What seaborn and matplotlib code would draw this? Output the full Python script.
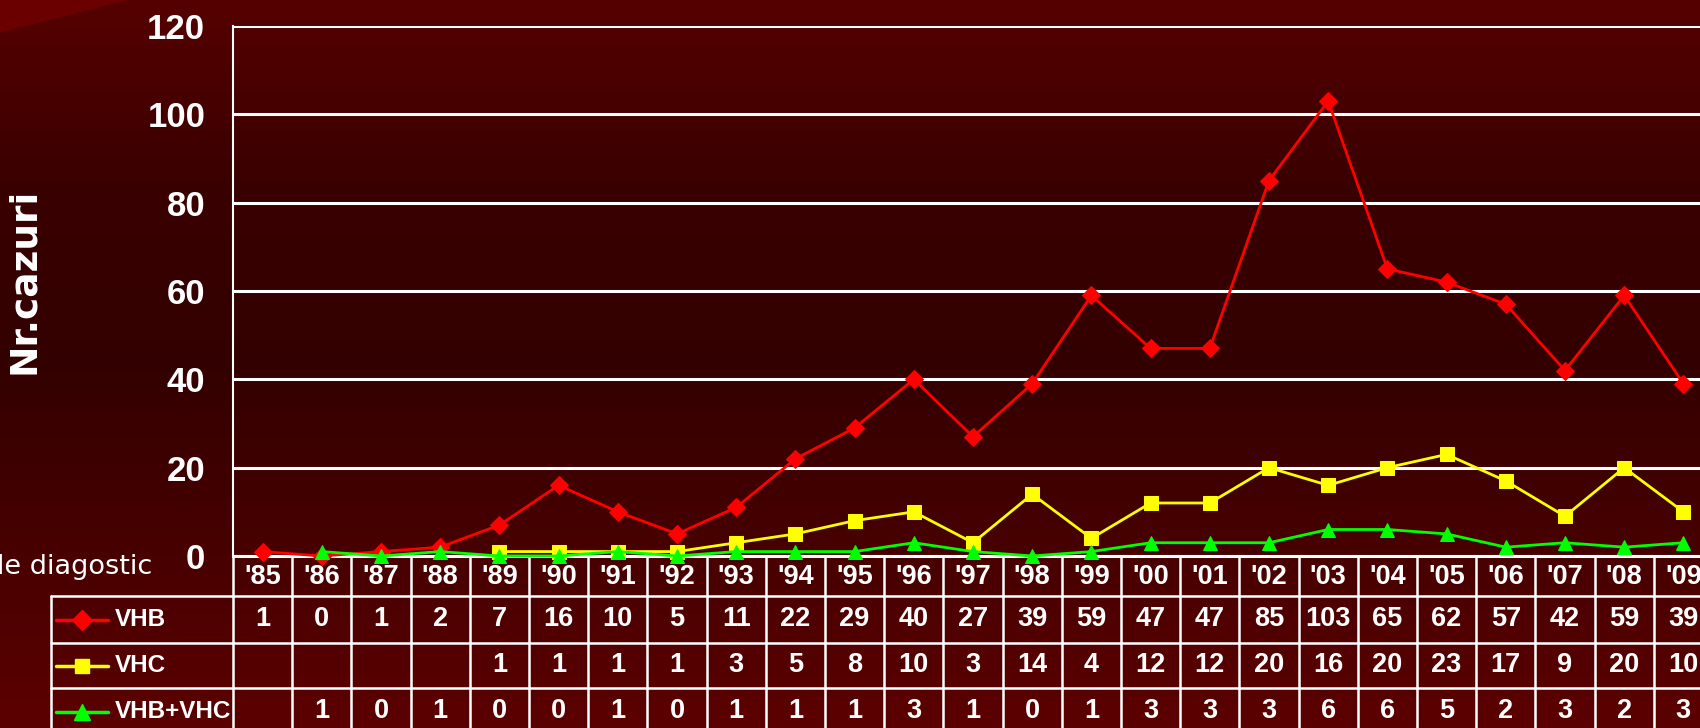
import numpy as np
import pandas as pd
import seaborn as sns
import matplotlib.pyplot as plt
from matplotlib.transforms import blended_transform_factory
from matplotlib.lines import Line2D
from matplotlib.colors import LinearSegmentedColormap

years = ["'85", "'86", "'87", "'88", "'89", "'90", "'91", "'92", "'93", "'94", "'95", "'96",
         "'97", "'98", "'99", "'00", "'01", "'02", "'03", "'04", "'05", "'06", "'07", "'08", "'09"]
vhb = [1, 0, 1, 2, 7, 16, 10, 5, 11, 22, 29, 40, 27, 39, 59, 47, 47, 85, 103, 65, 62, 57, 42, 59, 39]
vhc = [None, None, None, None, 1, 1, 1, 1, 3, 5, 8, 10, 3, 14, 4, 12, 12, 20, 16, 20, 23, 17, 9, 20, 10]
vhb_vhc = [None, 1, 0, 1, 0, 0, 1, 0, 1, 1, 1, 3, 1, 0, 1, 3, 3, 3, 6, 6, 5, 2, 3, 2, 3]

series = [("VHB", vhb, "#ff0000", "D", 9.5),
          ("VHC", vhc, "#ffff00", "s", 9.5),
          ("VHB+VHC", vhb_vhc, "#00ff00", "^", 10.5)]

sns.set_style("white")
plt.rcParams['font.family'] = ['DejaVu Sans']
narrow = ['Liberation Sans', 'DejaVu Sans']

W, H = 1700, 728
fig = plt.figure(figsize=(W / 100, H / 100), dpi=100)

# fundal in degrade
bg = fig.add_axes([0, 0, 1, 1], zorder=-10)
cmap = LinearSegmentedColormap.from_list("bg", ["#560000", "#3a0000", "#330000", "#470000", "#5c0000"])
bg.imshow(np.linspace(0, 1, 256).reshape(-1, 1), aspect="auto", cmap=cmap, extent=[0, 1, 0, 1])
bg.fill([0, 0.075, 0], [1, 1, 0.955], color="#6a0000", lw=0)
bg.set_xlim(0, 1)
bg.set_ylim(0, 1)
bg.axis("off")

def fx(px):
    return px / W

def fy(px):
    return 1 - px / H

x0, x1, ytop, y0 = 233, 1713, 26, 556
ax = fig.add_axes([fx(x0), fy(y0), fx(x1 - x0), (y0 - ytop) / H])
ax.set_facecolor("none")

df = pd.DataFrame({"pos": np.arange(len(years))})
for name, vals, col, mk, ms in series:
    df[name] = pd.array(vals, dtype="Float64").astype(float)
    sns.lineplot(data=df, x="pos", y=name, ax=ax, color=col, marker=mk, markersize=ms,
                 markeredgecolor=col, linewidth=2, clip_on=False, zorder=3)

ax.set_xlim(-0.5, len(years) - 0.5)
ax.set_ylim(0, 120)
ax.set_yticks(range(0, 121, 20))
ax.set_xticks([])
ax.set_xlabel("")
ax.set_ylabel("")
ax.grid(axis="y", color="white", linewidth=2.2)
for s in ["top", "right"]:
    ax.spines[s].set_visible(False)
ax.spines["left"].set_color("white")
ax.spines["left"].set_linewidth(1.5)
ax.spines["bottom"].set_color("white")
ax.spines["bottom"].set_linewidth(2.2)
ax.tick_params(axis="y", colors="white", length=10, width=2, direction="out", pad=10)
for lab in ax.get_yticklabels():
    lab.set_fontsize(25)
    lab.set_fontweight("bold")
    lab.set_family(narrow)
    lab.set_color("white")

fig.text(fx(24), fy(281), "Nr.cazuri", rotation=90, color="white", fontsize=27,
         fontweight="bold", ha="center", va="center")
fig.text(fx(152), fy(567), "Anul de diagostic", color="white", fontsize=19.5,
         ha="right", va="center")

# tabel de date
tr = blended_transform_factory(ax.transData, fig.transFigure)
rows_y = [556, 596, 643, 688, 735]
lkw = dict(color="white", linewidth=1.8, clip_on=False)
for i in range(len(years) + 1):
    ax.plot([i - 0.5, i - 0.5], [fy(rows_y[0]), fy(rows_y[-1])], transform=tr, **lkw)
for yy in rows_y[1:4]:
    fig.add_artist(Line2D([fx(51), 1.01], [fy(yy), fy(yy)], **lkw))
fig.add_artist(Line2D([fx(51), fx(51)], [fy(596), fy(735)], **lkw))

tkw = dict(color="white", fontsize=19.5, fontweight="bold", ha="center", va="center", family=narrow)
for i, yr in enumerate(years):
    ax.text(i, fy(577), yr, transform=tr, **tkw)
for r, (name, vals, col, mk, ms) in enumerate(series):
    yc = fy((rows_y[r + 1] + rows_y[r + 2]) / 2)
    for i, v in enumerate(vals):
        if v is not None:
            ax.text(i, yc, str(v), transform=tr, **tkw)
    fig.add_artist(Line2D([fx(56), fx(108)], [yc, yc], color=col, linewidth=2.5))
    fig.add_artist(Line2D([fx(82)], [yc], color=col, marker=mk, markersize=ms + 1,
                          markeredgecolor=col, linestyle="none"))
    fig.text(fx(115), yc, name, color="white", fontsize=17.5, fontweight="bold",
             ha="left", va="center", family=narrow)

fig.savefig("out.png", dpi=100)
